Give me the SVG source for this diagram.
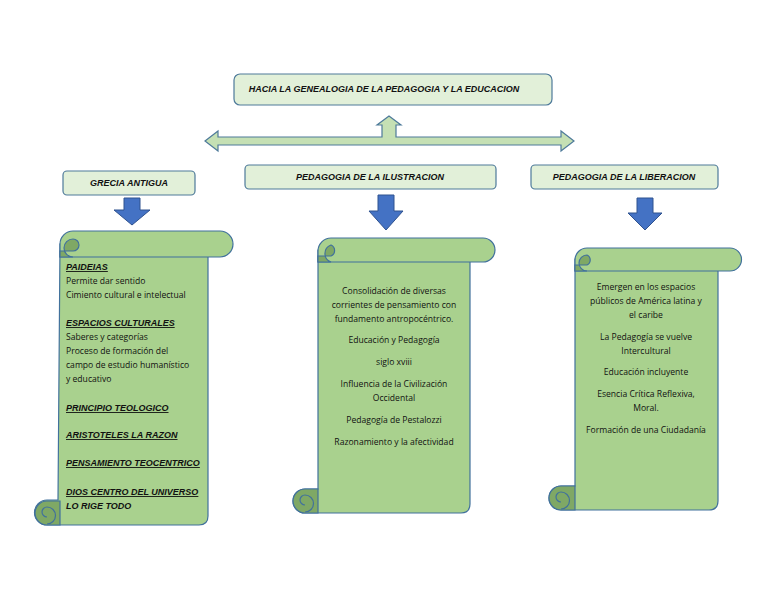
<svg xmlns="http://www.w3.org/2000/svg" width="768" height="594" viewBox="0 0 768 594">
<style>
.box{fill:#E2F0D9;stroke:#4E7A9A;stroke-width:1.2}
.scroll{fill:#A9D18E;stroke:#41719C;stroke-width:1.2}
.curl{fill:#7FA865;stroke:#41719C;stroke-width:1.2}
.blue{fill:#4472C4;stroke:#2F528F;stroke-width:1}
.h{font-family:"Liberation Sans",Arial,sans-serif;font-size:9px;font-style:italic;font-weight:bold;fill:#111}
.t{font-family:"Open Sans","Liberation Sans",sans-serif;font-size:8.6px;fill:#111}
.u{font-family:"Liberation Sans",Arial,sans-serif;font-size:9px;font-style:italic;font-weight:bold;text-decoration:underline;fill:#111}
</style>
<rect width="768" height="594" fill="#fff"/>
<g id="title"><rect class="box" x="234" y="74" width="318" height="31" rx="6"/><text class="h" x="384" y="92" text-anchor="middle">HACIA LA GENEALOGIA DE LA PEDAGOGIA Y LA EDUCACION</text></g>
<g id="connectors">
<path fill="#C5E0B4" stroke="#4E7A9A" stroke-width="1.2" d="M205,141 L218,131 L218,137 L382,137 L382,125 L377,125 L389,116 L401,125 L396,125 L396,137 L561,137 L561,131 L574,141 L561,151 L561,145 L218,145 L218,151 Z"/>
<path class="blue" d="M124,198 L140,198 L140,210 L150,210 L132,225 L114,210 L124,210 Z"/>
<path class="blue" d="M378,195 L394,195 L394,211 L403,211 L386,230 L369,211 L378,211 Z"/>
<path class="blue" d="M637,198 L653,198 L653,213 L662,213 L645,230 L628,213 L637,213 Z"/>
</g>
<g id="grecia"><rect class="box" x="63" y="171" width="132" height="24" rx="4"/><text class="h" x="129" y="186" text-anchor="middle">GRECIA ANTIGUA</text></g>
<g id="ilustracion"><rect class="box" x="245" y="165" width="251" height="24" rx="4"/><text class="h" x="370" y="180" text-anchor="middle">PEDAGOGIA DE LA ILUSTRACION</text></g>
<g id="liberacion"><rect class="box" x="531" y="165" width="187" height="24" rx="4"/><text class="h" x="624" y="180" text-anchor="middle">PEDAGOGIA DE LA LIBERACION</text></g>

<g id="scroll1">
<path class="scroll" d="M60,244 L208,244 L208,516 Q208,525 199,525 L47,525 A12,12 0 0 1 47,500 L58,500 Z"/>
<path class="scroll" d="M73,231 L220,231 A13,13 0 0 1 220,257 L60,257 L60,244 A13,13 0 0 1 73,231 Z"/>
<path class="curl" d="M73,257 A9,9 0 0 1 73,239 A6,6 0 0 1 73,251 L60,251 L60,257 Z"/>
<path class="curl" d="M47,525 A12,12 0 0 1 47,501 L60,501 L60,525 Z"/>
<path class="curl" d="M47,517 A5,5 0 0 1 47,507 A8,8 0 0 1 47,524"/>
<text class="u" x="66" y="270">PAIDEIAS</text>
<text class="t" x="66" y="284">Permite dar sentido</text>
<text class="t" x="66" y="298">Cimiento cultural e  intelectual</text>
<text class="u" x="66" y="326">ESPACIOS CULTURALES</text>
<text class="t" x="66" y="340">Saberes y categorías</text>
<text class="t" x="66" y="354">Proceso de formación del</text>
<text class="t" x="66" y="368">campo de estudio humanístico</text>
<text class="t" x="66" y="382">y educativo</text>
<text class="u" x="66" y="411">PRINCIPIO TEOLOGICO</text>
<text class="u" x="66" y="438">ARISTOTELES LA RAZON</text>
<text class="u" x="66" y="466">PENSAMIENTO TEOCENTRICO</text>
<text class="u" x="66" y="495">DIOS CENTRO DEL UNIVERSO</text>
<text class="h" x="66" y="509">LO RIGE TODO</text>
</g>

<g id="scroll2">
<path class="scroll" d="M318,250 L470,250 L470,504 Q470,513 461,513 L305,513 A12,12 0 0 1 305,489 L318,489 Z"/>
<path class="scroll" d="M331,238 L483,238 A12,12 0 0 1 483,262 L318,262 L318,251 A13,13 0 0 1 331,238 Z"/>
<path class="curl" d="M331,262 A9,9 0 0 1 331,245 A6,6 0 0 1 331,256 L318,256 L318,262 Z"/>
<path class="curl" d="M305,513 A12,12 0 0 1 305,489 L318,489 L318,513 Z"/>
<path class="curl" d="M305,505 A5,5 0 0 1 305,495 A8,8 0 0 1 305,512"/>
<g class="t" text-anchor="middle">
<text x="394" y="294">Consolidación de diversas</text>
<text x="394" y="308">corrientes de pensamiento con</text>
<text x="394" y="322">fundamento antropocéntrico.</text>
<text x="394" y="343">Educación y Pedagogía</text>
<text x="394" y="365">siglo xviii</text>
<text x="394" y="387">Influencia de la Civilización</text>
<text x="394" y="401">Occidental</text>
<text x="394" y="423">Pedagogía de Pestalozzi</text>
<text x="394" y="445">Razonamiento y la afectividad</text>
</g>
</g>

<g id="scroll3">
<path class="scroll" d="M575,259 L718,259 L718,501 Q718,510 709,510 L561,510 A12,12 0 0 1 561,486 L575,486 Z"/>
<path class="scroll" d="M587,248 L730,248 A11.5,11.5 0 0 1 730,271 L575,271 L575,260 A12,12 0 0 1 587,248 Z"/>
<path class="curl" d="M587,271 A8,8 0 0 1 587,255 A5.5,5.5 0 0 1 587,265 L575,265 L575,271 Z"/>
<path class="curl" d="M561,510 A12,12 0 0 1 561,486 L575,486 L575,510 Z"/>
<path class="curl" d="M561,502 A5,5 0 0 1 561,492 A8,8 0 0 1 561,509"/>
<g class="t" text-anchor="middle">
<text x="646" y="290">Emergen en los espacios</text>
<text x="646" y="304">públicos de América latina y</text>
<text x="646" y="318">el caribe</text>
<text x="646" y="340">La Pedagogía se vuelve</text>
<text x="646" y="354">Intercultural</text>
<text x="646" y="375">Educación incluyente</text>
<text x="646" y="397">Esencia Crítica Reflexiva,</text>
<text x="646" y="411">Moral.</text>
<text x="646" y="433">Formación de una Ciudadanía</text>
</g>
</g>
</svg>
